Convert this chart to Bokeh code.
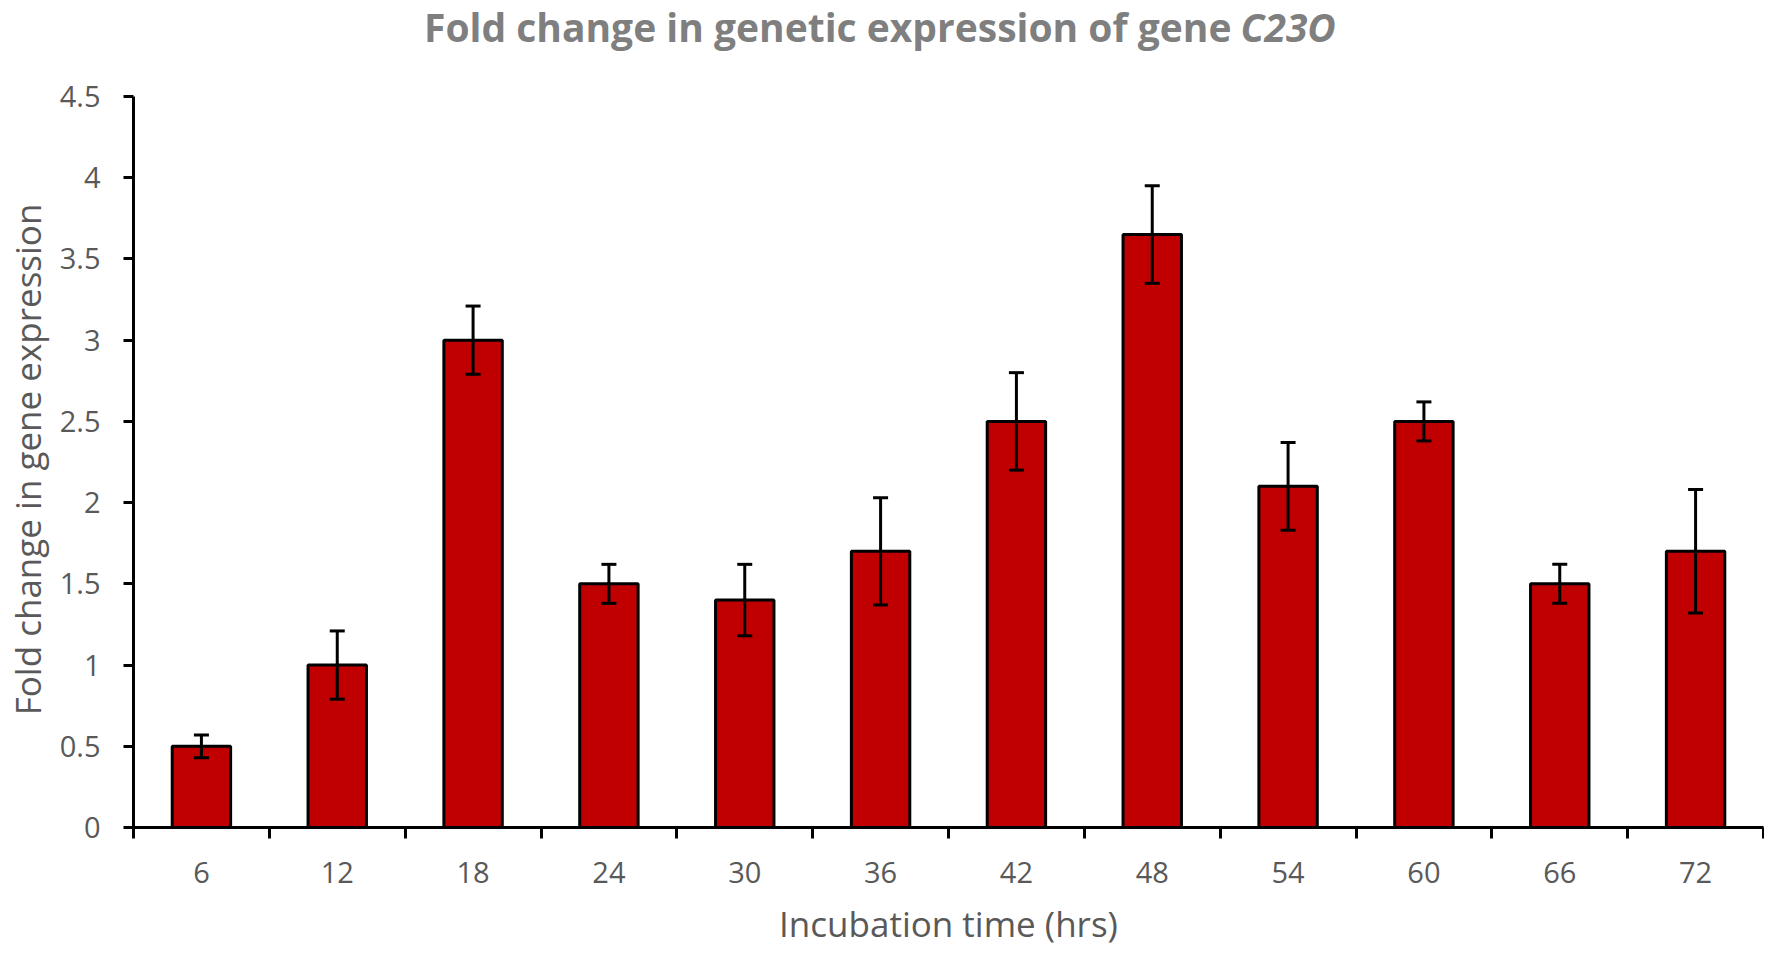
from bokeh.plotting import figure
from bokeh.models import (ColumnDataSource, Whisker, TeeHead, FixedTicker, Range1d,
                          CustomJSTickFormatter, Label)
from bokeh.embed import file_html
from bokeh.resources import INLINE

# ---- data ----
hours = [6, 12, 18, 24, 30, 36, 42, 48, 54, 60, 66, 72]
fold_change = [0.5, 1.0, 3.0, 1.5, 1.4, 1.7, 2.5, 3.65, 2.1, 2.5, 1.5, 1.7]
error = [0.07, 0.21, 0.21, 0.12, 0.22, 0.33, 0.30, 0.30, 0.27, 0.12, 0.12, 0.38]
y_ticks = [0, 0.5, 1, 1.5, 2, 2.5, 3, 3.5, 4, 4.5]
y_max = 4.5
step = 6

title_main = "Fold change in genetic expression of gene"
title_gene = "C23O"
x_title = "Incubation time (hrs)"
y_title = "Fold change in gene expression"

lower = [v - e for v, e in zip(fold_change, error)]
upper = [v + e for v, e in zip(fold_change, error)]
boundaries = [h - step / 2 for h in hours] + [hours[-1] + step / 2]

src = ColumnDataSource(dict(x=hours, top=fold_change, lower=lower, upper=upper))

FONT = "Open Sans"
GREY = "#595959"

# frame extends above the axis top so that the title can sit inside it
p = figure(width=1764, height=950, output_backend="svg", toolbar_location=None,
           x_range=Range1d(boundaries[0], boundaries[-1]), y_range=Range1d(0, 5.091),
           min_border_left=120, min_border_right=1, min_border_top=0, min_border_bottom=123)
p.outline_line_color = None
p.xgrid.grid_line_color = None
p.ygrid.grid_line_color = None
p.background_fill_color = "white"

p.vbar(x="x", top="top", width=step * 0.43, source=src,
       fill_color="#C00000", line_color="black", line_width=3)

wh = Whisker(base="x", lower="lower", upper="upper", source=src,
             line_color="black", line_width=3, level="overlay",
             upper_head=TeeHead(size=15, line_color="black", line_width=3),
             lower_head=TeeHead(size=15, line_color="black", line_width=3))
p.add_layout(wh)

# x axis
p.xaxis.ticker = FixedTicker(ticks=hours, minor_ticks=boundaries)
p.xaxis.major_tick_out = 0
p.xaxis.major_tick_in = 0
p.xaxis.minor_tick_out = 11
p.xaxis.minor_tick_in = 0
p.xaxis.minor_tick_line_width = 3
p.xaxis.minor_tick_line_color = "black"
p.xaxis.axis_line_width = 3
p.xaxis.axis_line_color = "black"
p.xaxis.major_label_text_font = FONT
p.xaxis.major_label_text_font_size = "29px"
p.xaxis.major_label_text_color = GREY
p.xaxis.major_label_standoff = 23
p.xaxis.axis_label = x_title
p.xaxis.axis_label_text_font = FONT
p.xaxis.axis_label_text_font_style = "normal"
p.xaxis.axis_label_text_font_size = "35px"
p.xaxis.axis_label_text_color = GREY
p.xaxis.axis_label_standoff = 14

# y axis
p.yaxis.ticker = FixedTicker(ticks=y_ticks)
p.yaxis.bounds = (0, y_max)
p.yaxis.formatter = CustomJSTickFormatter(code="return tick.toFixed(1).replace(/\\.0$/, '');")
p.yaxis.major_tick_out = 10
p.yaxis.major_tick_in = 0
p.yaxis.major_tick_line_width = 3
p.yaxis.minor_tick_line_color = None
p.yaxis.axis_line_width = 3
p.yaxis.axis_line_color = "black"
p.yaxis.major_label_text_font = FONT
p.yaxis.major_label_text_font_size = "29px"
p.yaxis.major_label_text_color = GREY
p.yaxis.major_label_standoff = 23
# trailing no-break spaces keep the label centred on the axis (0..4.5), not the taller frame
p.yaxis.axis_label = y_title + "\u00a0" * 10
p.yaxis.axis_label_text_font = FONT
p.yaxis.axis_label_text_font_style = "normal"
p.yaxis.axis_label_text_font_size = "35px"
p.yaxis.axis_label_text_color = GREY
p.yaxis.axis_label_standoff = 6

# title: plain part + italic gene name
split_x = 51.7
p.add_layout(Label(x=split_x - 0.2, y=4.93, text=title_main, text_align="right",
                   text_baseline="middle", text_font=FONT, text_font_style="bold",
                   text_font_size="39px", text_color="#7F7F7F"))
p.add_layout(Label(x=split_x + 0.2, y=4.93, text=title_gene, text_align="left",
                   text_baseline="middle", text_font=FONT, text_font_style="bold italic",
                   text_font_size="39px", text_color="#7F7F7F"))

open("out.html", "w").write(file_html(p, INLINE))
